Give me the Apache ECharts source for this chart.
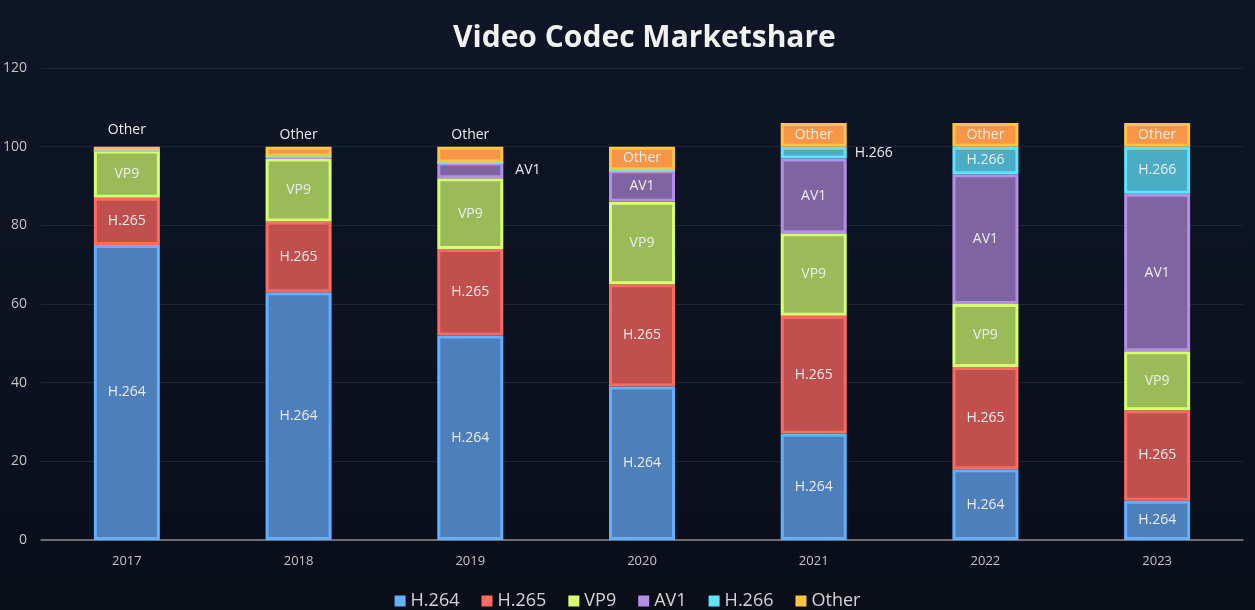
<!DOCTYPE html>
<html>
<head>
<meta charset="utf-8">
<script src="https://cdn.jsdelivr.net/npm/echarts@6/dist/echarts.min.js"></script>
<style>
html,body{margin:0;padding:0;background:#0a101c;}
#c{width:1255px;height:610px;}
</style>
</head>
<body>
<div id="c"></div>
<script>
const years = ['2017','2018','2019','2020','2021','2022','2023'];
const h264  = [75, 63, 52, 39, 27, 18, 10];
const h265  = [12, 18, 22, 26, 30, 26, 23];
const vp9   = [12, 16, 18, 21, 21, 16, 15];
const av1   = [0, 0.5, 4, 8, 19, 33, 40];
const h266  = [0, 0, 0, 0, 3, 7, 12];
const other = [1, 2.5, 4, 6, 6, 6, 6];
const yTicks = [0, 20, 40, 60, 80, 100, 120];

const seriesDefs = [
  {name:'H.264', data:h264, fill:'#4d7fbb', edge:'#62b0ff'},
  {name:'H.265', data:h265, fill:'#c0504d', edge:'#ff6a63'},
  {name:'VP9',   data:vp9,  fill:'#9bbb59', edge:'#d8ff70'},
  {name:'AV1',   data:av1,  fill:'#8064a2', edge:'#b58ee8'},
  {name:'H.266', data:h266, fill:'#4bacc6', edge:'#5fe4ff'},
  {name:'Other', data:other,fill:'#f79646', edge:'#ffc444'}
];

function labelFor(name, v, i){
  if (!v) return {show:false};
  if (name === 'Other' && i === 0) return {show:true, position:'top', distance:10};
  if (name === 'Other' && i <= 2) return {show:true, position:'top', distance:5};
  if (name === 'AV1' && i === 1) return {show:false};
  if (name === 'AV1' && i === 2) return {show:true, position:'right', distance:12};
  if (name === 'H.266' && i === 4) return {show:true, position:'right', distance:8};
  return {show:true, position:'inside'};
}

const series = seriesDefs.map(s => ({
  name: s.name,
  type: 'bar',
  stack: 'total',
  barWidth: 66,
  itemStyle: {color: s.fill, borderColor: s.edge, borderWidth: 3},
  label: {color:'#ececec', fontSize:14, fontFamily:'Open Sans', formatter: s.name},
  data: s.data.map((v,i) => ({value: v, label: labelFor(s.name, v, i)}))
}));

const chart = echarts.init(document.getElementById('c'));
chart.setOption({
  backgroundColor: {
    type:'linear', x:0, y:0, x2:0, y2:1,
    colorStops:[{offset:0, color:'#0e1627'},{offset:1, color:'#090e19'}]
  },
  animation:false,
  title: {
    text:'Video Codec Marketshare', left:448, top:18,
    textStyle:{color:'#f2f2f2', fontSize:30, fontWeight:'bold', fontFamily:'Open Sans'}
  },
  legend: {
    top:587, left:'center', itemWidth:11, itemHeight:11, itemGap:22,
    icon:'rect',
    textStyle:{color:'#d4d4d4', fontSize:18, fontFamily:'Open Sans'},
    data: seriesDefs.map(s => ({name:s.name, itemStyle:{color:s.edge, borderWidth:0}}))
  },
  grid: {left:39, right:12, top:68, bottom:70, containLabel:false},
  xAxis: {
    type:'category', data: years,
    axisLine:{lineStyle:{color:'#8a8a8a', width:1.5}},
    axisTick:{show:false},
    axisLabel:{color:'#c4c4c4', fontSize:13, margin:15, fontFamily:'Open Sans'}
  },
  yAxis: {
    type:'value', min:yTicks[0], max:yTicks[yTicks.length-1], interval:20,
    axisLine:{show:false}, axisTick:{show:false},
    axisLabel:{color:'#c4c4c4', fontSize:14, margin:14, fontFamily:'Open Sans'},
    splitLine:{lineStyle:{color:'#1c2536', width:1}}
  },
  series: series
});
</script>
</body>
</html>
